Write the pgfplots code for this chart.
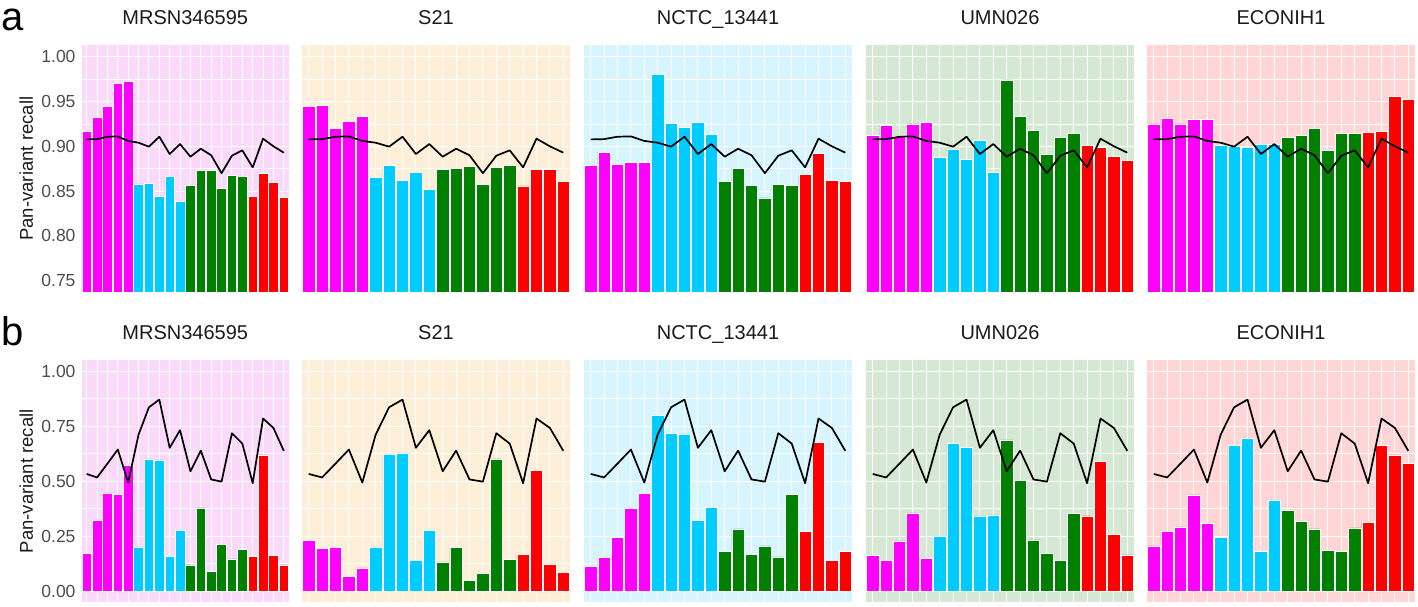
\documentclass[border=0pt]{standalone}
\usepackage{pgfplots}
\pgfplotsset{compat=1.18}
\usepackage{fontspec}
\setmainfont{Liberation Sans}

\definecolor{cmag}{HTML}{FF00FF}
\definecolor{cblue}{HTML}{00CCFF}
\definecolor{cgreen}{HTML}{008000}
\definecolor{cred}{HTML}{FF0000}
\definecolor{bg1}{HTML}{FBD9FB}
\definecolor{bg2}{HTML}{FDEED8}
\definecolor{bg3}{HTML}{D6F5FE}
\definecolor{bg4}{HTML}{D4E8D4}
\definecolor{bg5}{HTML}{FFD5D5}
\definecolor{ticktext}{HTML}{4D4D4D}
\definecolor{titletext}{HTML}{1A1A1A}

\pgfplotsset{
  panel/.style={
    scale only axis, anchor=south west,
    xmin=0.5, xmax=20.5,
    xtick={1,...,20}, xticklabels={},
    yticklabels={},
    axis line style={draw=none},
    tick style={draw=none},
    major tick length=0pt, minor tick length=0pt,
    grid=both,
    major grid style={white, line width=1.1pt},
    minor grid style={white, line width=0.5pt},
    ybar, bar width=0.92, bar shift=0pt,
    axis background/.style={fill=#1},
    title style={at={(0.5,1)}, anchor=base, yshift=14.5pt,
      font=\fontsize{20}{23}\selectfont, text=titletext},
    yticklabel style={font=\fontsize{17.5}{20}\selectfont, text=ticktext, xshift=-2.5pt},
    every axis y label/.style={at={(rel axis cs:0,0.5)}, xshift=-48.5pt,
      rotate=90, anchor=base,
      font=\fontsize{18.5}{21}\selectfont, text=titletext},
  },
  rowa/.style={panel=#1, height=246.4pt, ymin=0.7375, ymax=1.0125,
    ytick={0.75,0.80,0.85,0.90,0.95,1.00},
    minor ytick={0.775,0.825,0.875,0.925,0.975}},
  rowb/.style={panel=#1, height=242pt, ymin=-0.05, ymax=1.05,
    ytick={0,0.25,0.5,0.75,1},
    minor ytick={0.125,0.375,0.625,0.875}},
}

% one panel's bars: magenta 1-5, blue 6-10, green 11-16, red 17-20
\newcommand{\bars}[4]{%
  \addplot[fill=cmag, draw=white, line width=0.6pt] coordinates {#1};
  \addplot[fill=cblue, draw=white, line width=0.6pt] coordinates {#2};
  \addplot[fill=cgreen, draw=white, line width=0.6pt] coordinates {#3};
  \addplot[fill=cred, draw=white, line width=0.6pt] coordinates {#4};
}
\newcommand{\linea}{%
  \addplot[sharp plot, black, line width=1.7pt, line join=round] coordinates {
    (1,0.9077)(2,0.9080)(3,0.9107)(4,0.9110)(5,0.9060)(6,0.9040)(7,0.8996)
    (8,0.9107)(9,0.8914)(10,0.9025)(11,0.8884)(12,0.8973)(13,0.8900)(14,0.8700)
    (15,0.8895)(16,0.8955)(17,0.8765)(18,0.9085)(19,0.9000)(20,0.8929)};
}
\newcommand{\lineb}{%
  \addplot[sharp plot, black, line width=1.7pt, line join=round] coordinates {
    (1,0.533)(2,0.517)(3,0.580)(4,0.644)(5,0.494)(6,0.712)(7,0.836)
    (8,0.871)(9,0.652)(10,0.732)(11,0.545)(12,0.639)(13,0.508)(14,0.498)
    (15,0.718)(16,0.671)(17,0.491)(18,0.785)(19,0.742)(20,0.638)};
}

\begin{document}
\begin{tikzpicture}
\useasboundingbox (0,0) rectangle (1418pt,606pt);

\node[font=\fontsize{40}{44}\selectfont, anchor=base west, inner sep=0pt] at (1.5pt,575pt) {a};
\node[font=\fontsize{40}{44}\selectfont, anchor=base west, inner sep=0pt] at (1.5pt,261pt) {b};

% ---------------- row a ----------------
\begin{axis}[rowa=bg1, at={(81.5pt,314.1pt)}, width=207.5pt, title={MRSN346595},
  yticklabels={0.75,0.80,0.85,0.90,0.95,1.00}, ylabel={Pan-variant recall}]
\bars{(1,0.9163)(2,0.9327)(3,0.9446)(4,0.9700)(5,0.9728)}
     {(6,0.8580)(7,0.8586)(8,0.8441)(9,0.8660)(10,0.8389)}
     {(11,0.8564)(12,0.8735)(13,0.8735)(14,0.8527)(15,0.8672)(16,0.8660)}
     {(17,0.8441)(18,0.8700)(19,0.8597)(20,0.8430)}
\linea
\end{axis}

\begin{axis}[rowa=bg2, at={(302pt,314.1pt)}, width=268pt, title={S21}]
\bars{(1,0.9446)(2,0.9457)(3,0.9204)(4,0.9278)(5,0.9330)}
     {(6,0.8653)(7,0.8787)(8,0.8620)(9,0.8713)(10,0.8516)}
     {(11,0.8743)(12,0.8757)(13,0.8776)(14,0.8575)(15,0.8765)(16,0.8787)}
     {(17,0.8557)(18,0.8743)(19,0.8743)(20,0.8609)}
\linea
\end{axis}

\begin{axis}[rowa=bg3, at={(584pt,314.1pt)}, width=268pt, title={NCTC\_13441}]
\bars{(1,0.8787)(2,0.8932)(3,0.8798)(4,0.8820)(5,0.8820)}
     {(6,0.9803)(7,0.9260)(8,0.9215)(9,0.9267)(10,0.9133)}
     {(11,0.8609)(12,0.8757)(13,0.8564)(14,0.8423)(15,0.8579)(16,0.8564)}
     {(17,0.8690)(18,0.8921)(19,0.8620)(20,0.8609)}
\linea
\end{axis}

\begin{axis}[rowa=bg4, at={(866pt,314.1pt)}, width=268pt, title={UMN026}]
\bars{(1,0.9122)(2,0.9237)(3,0.9111)(4,0.9249)(5,0.9271)}
     {(6,0.8873)(7,0.8966)(8,0.8854)(9,0.9062)(10,0.8705)}
     {(11,0.9740)(12,0.9330)(13,0.9178)(14,0.8914)(15,0.9100)(16,0.9140)}
     {(17,0.9014)(18,0.8984)(19,0.8891)(20,0.8843)}
\linea
\end{axis}

\begin{axis}[rowa=bg5, at={(1147pt,314.1pt)}, width=268pt, title={ECONIH1}]
\bars{(1,0.9249)(2,0.9312)(3,0.9249)(4,0.9300)(5,0.9300)}
     {(6,0.9010)(7,0.8996)(8,0.8984)(9,0.9025)(10,0.9018)}
     {(11,0.9100)(12,0.9122)(13,0.9196)(14,0.8955)(15,0.9144)(16,0.9144)}
     {(17,0.9155)(18,0.9167)(19,0.9561)(20,0.9520)}
\linea
\end{axis}

% ---------------- row b ----------------
\begin{axis}[rowb=bg1, at={(81.5pt,3.8pt)}, width=207.5pt, title={MRSN346595},
  yticklabels={0.00,0.25,0.50,0.75,1.00}, ylabel={Pan-variant recall}]
\bars{(1,0.171)(2,0.323)(3,0.447)(4,0.441)(5,0.573)}
     {(6,0.2015)(7,0.6015)(8,0.597)(9,0.159)(10,0.279)}
     {(11,0.120)(12,0.379)(13,0.091)(14,0.214)(15,0.147)(16,0.189)}
     {(17,0.159)(18,0.620)(19,0.164)(20,0.120)}
\lineb
\end{axis}

\begin{axis}[rowb=bg2, at={(302pt,3.8pt)}, width=268pt, title={S21}]
\bars{(1,0.232)(2,0.194)(3,0.198)(4,0.067)(5,0.106)}
     {(6,0.2015)(7,0.624)(8,0.629)(9,0.139)(10,0.279)}
     {(11,0.133)(12,0.198)(13,0.048)(14,0.082)(15,0.6015)(16,0.144)}
     {(17,0.168)(18,0.548)(19,0.124)(20,0.086)}
\lineb
\end{axis}

\begin{axis}[rowb=bg3, at={(584pt,3.8pt)}, width=268pt, title={NCTC\_13441}]
\bars{(1,0.114)(2,0.152)(3,0.245)(4,0.377)(5,0.445)}
     {(6,0.798)(7,0.718)(8,0.715)(9,0.323)(10,0.382)}
     {(11,0.182)(12,0.283)(13,0.168)(14,0.206)(15,0.156)(16,0.441)}
     {(17,0.271)(18,0.676)(19,0.139)(20,0.182)}
\lineb
\end{axis}

\begin{axis}[rowb=bg4, at={(866pt,3.8pt)}, width=268pt, title={UMN026}]
\bars{(1,0.161)(2,0.139)(3,0.229)(4,0.356)(5,0.148)}
     {(6,0.248)(7,0.671)(8,0.655)(9,0.342)(10,0.347)}
     {(11,0.688)(12,0.505)(13,0.233)(14,0.171)(15,0.139)(16,0.352)}
     {(17,0.342)(18,0.589)(19,0.258)(20,0.165)}
\lineb
\end{axis}

\begin{axis}[rowb=bg5, at={(1147pt,3.8pt)}, width=268pt, title={ECONIH1}]
\bars{(1,0.206)(2,0.271)(3,0.292)(4,0.438)(5,0.309)}
     {(6,0.245)(7,0.662)(8,0.697)(9,0.182)(10,0.415)}
     {(11,0.368)(12,0.318)(13,0.283)(14,0.186)(15,0.182)(16,0.288)}
     {(17,0.314)(18,0.662)(19,0.620)(20,0.582)}
\lineb
\end{axis}
\end{tikzpicture}
\end{document}
